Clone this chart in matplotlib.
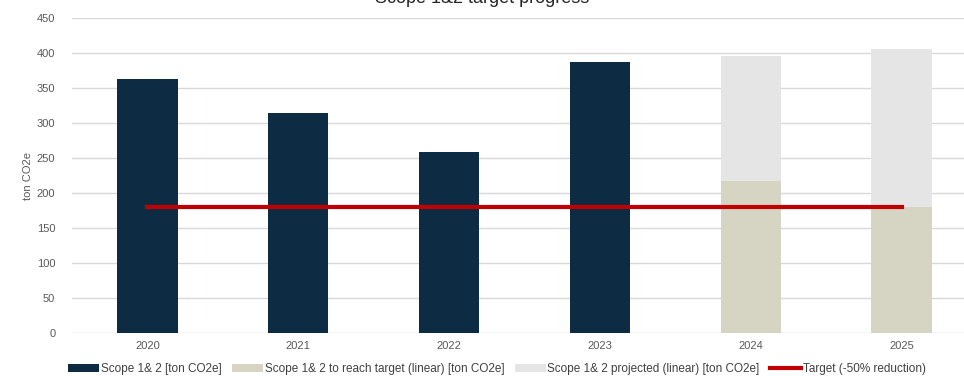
import matplotlib.pyplot as plt
import numpy as np

years = ['2020', '2021', '2022', '2023', '2024', '2025']
actual = [363, 314, 259, 387, 0, 0]
reach_target = [0, 0, 0, 0, 217, 180]
projected = [0, 0, 0, 0, 396, 406]
target = [180, 180, 180, 180, 180, 180]

plt.rcParams['font.family'] = ['Liberation Sans', 'DejaVu Sans']

fig = plt.figure(figsize=(9.64, 3.76), dpi=100)
ax = fig.add_axes([72 / 964, 43 / 376, 1 - 72 / 964, 315 / 376])

x = np.arange(len(years))
w = 0.4
b_proj = ax.bar(x, projected, w, color='#e6e5e6', zorder=2)
b_reach = ax.bar(x, reach_target, w, color='#d6d5c4', zorder=3)
b_act = ax.bar(x, actual, w, color='#0d2c44', zorder=3)
ln, = ax.plot(x, target, color='#c00000', lw=3, zorder=4)

ax.set_ylim(0, 450)
ax.set_yticks(range(0, 451, 50))
ax.set_xlim(-0.5, 5.5 - 13 / 151)
ax.set_xticks(x)
ax.set_xticklabels(years)
ax.grid(axis='y', color='#d9d9d9', lw=1, zorder=0)
ax.set_axisbelow(True)
for s in ax.spines.values():
    s.set_visible(False)
ax.tick_params(length=0, labelsize=8, colors='#595959', pad=6)
ax.tick_params(axis='y', pad=12)
ax.set_ylabel('ton CO2e', fontsize=8, color='#595959', labelpad=3)

fig.text(0.5, 1.005, 'Scope 1&2 target progress', ha='center', va='center', fontsize=13, color='#262626')

fig.legend([b_act, b_reach, b_proj, ln],
           ['Scope 1& 2 [ton CO2e]', 'Scope 1& 2 to reach target (linear) [ton CO2e]',
            'Scope 1& 2 projected (linear) [ton CO2e]', 'Target (-50% reduction)'],
           loc='center', bbox_to_anchor=(497 / 964, 7 / 376), ncol=4, frameon=False, fontsize=8.5,
           labelcolor='#404040', handlelength=2.6, handleheight=0.6,
           handletextpad=0.15, columnspacing=0.9)

fig.savefig('out.png', dpi=100)
